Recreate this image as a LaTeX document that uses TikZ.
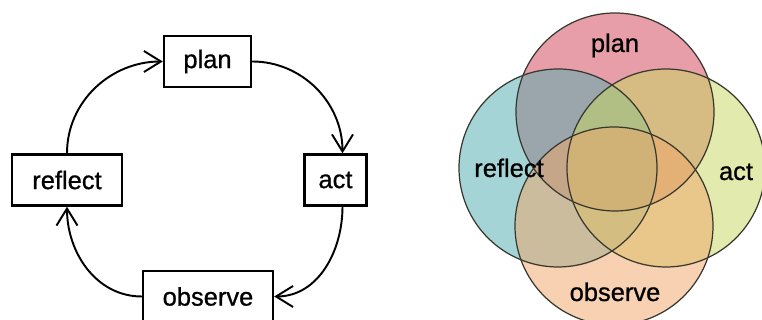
\documentclass[tikz,border=0pt]{standalone}
\usepackage{fontspec}
\setmainfont{Liberation Sans}
\newfontfamily\stagefont{Liberation Sans}[FakeBold=0.8]
\usepackage{tikz}
\usetikzlibrary{arrows.meta, positioning, calc}
\usepackage{xcolor}
\definecolor{planpink}{RGB}{211,69,89}
\definecolor{reflectteal}{RGB}{83,173,177}
\definecolor{actlime}{RGB}{199,215,97}
\definecolor{observepeach}{RGB}{239,167,107}
\definecolor{edgegray}{RGB}{55,55,45}
\tikzset{
  stage/.style={draw, line width=1.4pt, minimum height=1.02cm, inner sep=0pt},
  cycle arrow/.style={->, line width=1.1pt},
  venn fill/.style={fill opacity=0.52},
  venn line/.style={edgegray, line width=0.7pt}
}

\begin{document}
\begin{tikzpicture}[x=0.02cm, y=0.02cm, >={Straight Barb[length=3.4mm,width=4.2mm]}, font=\stagefont\fontsize{14.5}{17}\selectfont]
  \useasboundingbox (0,0) rectangle (762,320);
  % Cycle of stages
  \node[stage, minimum width=1.74cm] (plan) at (207.5,258.5) {plan};
  \node[stage, minimum width=2.2cm] (reflect) at (67,140) {reflect};
  \node[stage, minimum width=1.24cm] (act) at (335.5,140) {act};
  \node[stage, minimum width=2.6cm] (observe) at (208,23.5) {observe};
  \draw[cycle arrow] (reflect.north) to[out=90, in=180] (plan.west);
  \draw[cycle arrow] (plan.east) to[out=0, in=90] ([xshift=0.14cm]act.north);
  \draw[cycle arrow] ([xshift=0.14cm]act.south) to[out=-90, in=0] (observe.east);
  \draw[cycle arrow] (observe.west) to[out=180, in=-90] (reflect.south);
  % Overlapping circles
  \coordinate (cplan) at (615,208);
  \coordinate (creflect) at (558,152);
  \coordinate (cact) at (666,152);
  \coordinate (cobserve) at (614,94);
  \fill[planpink, venn fill] (cplan) circle (99);
  \fill[reflectteal, venn fill] (creflect) circle (99);
  \fill[actlime, venn fill] (cact) circle (99);
  \fill[observepeach, venn fill] (cobserve) circle (99);
  \foreach \c in {cplan, creflect, cact, cobserve} {
    \draw[venn line] (\c) circle (99);
  }
  % Labels
  \node[anchor=base] (lplan) at (615,268) {plan};
  \node[anchor=base] (lreflect) at (509,143) {reflect};
  \node[anchor=base] (lact) at (736,140) {act};
  \node[anchor=base] (lobserve) at (615,19) {observe};
\end{tikzpicture}
\end{document}
